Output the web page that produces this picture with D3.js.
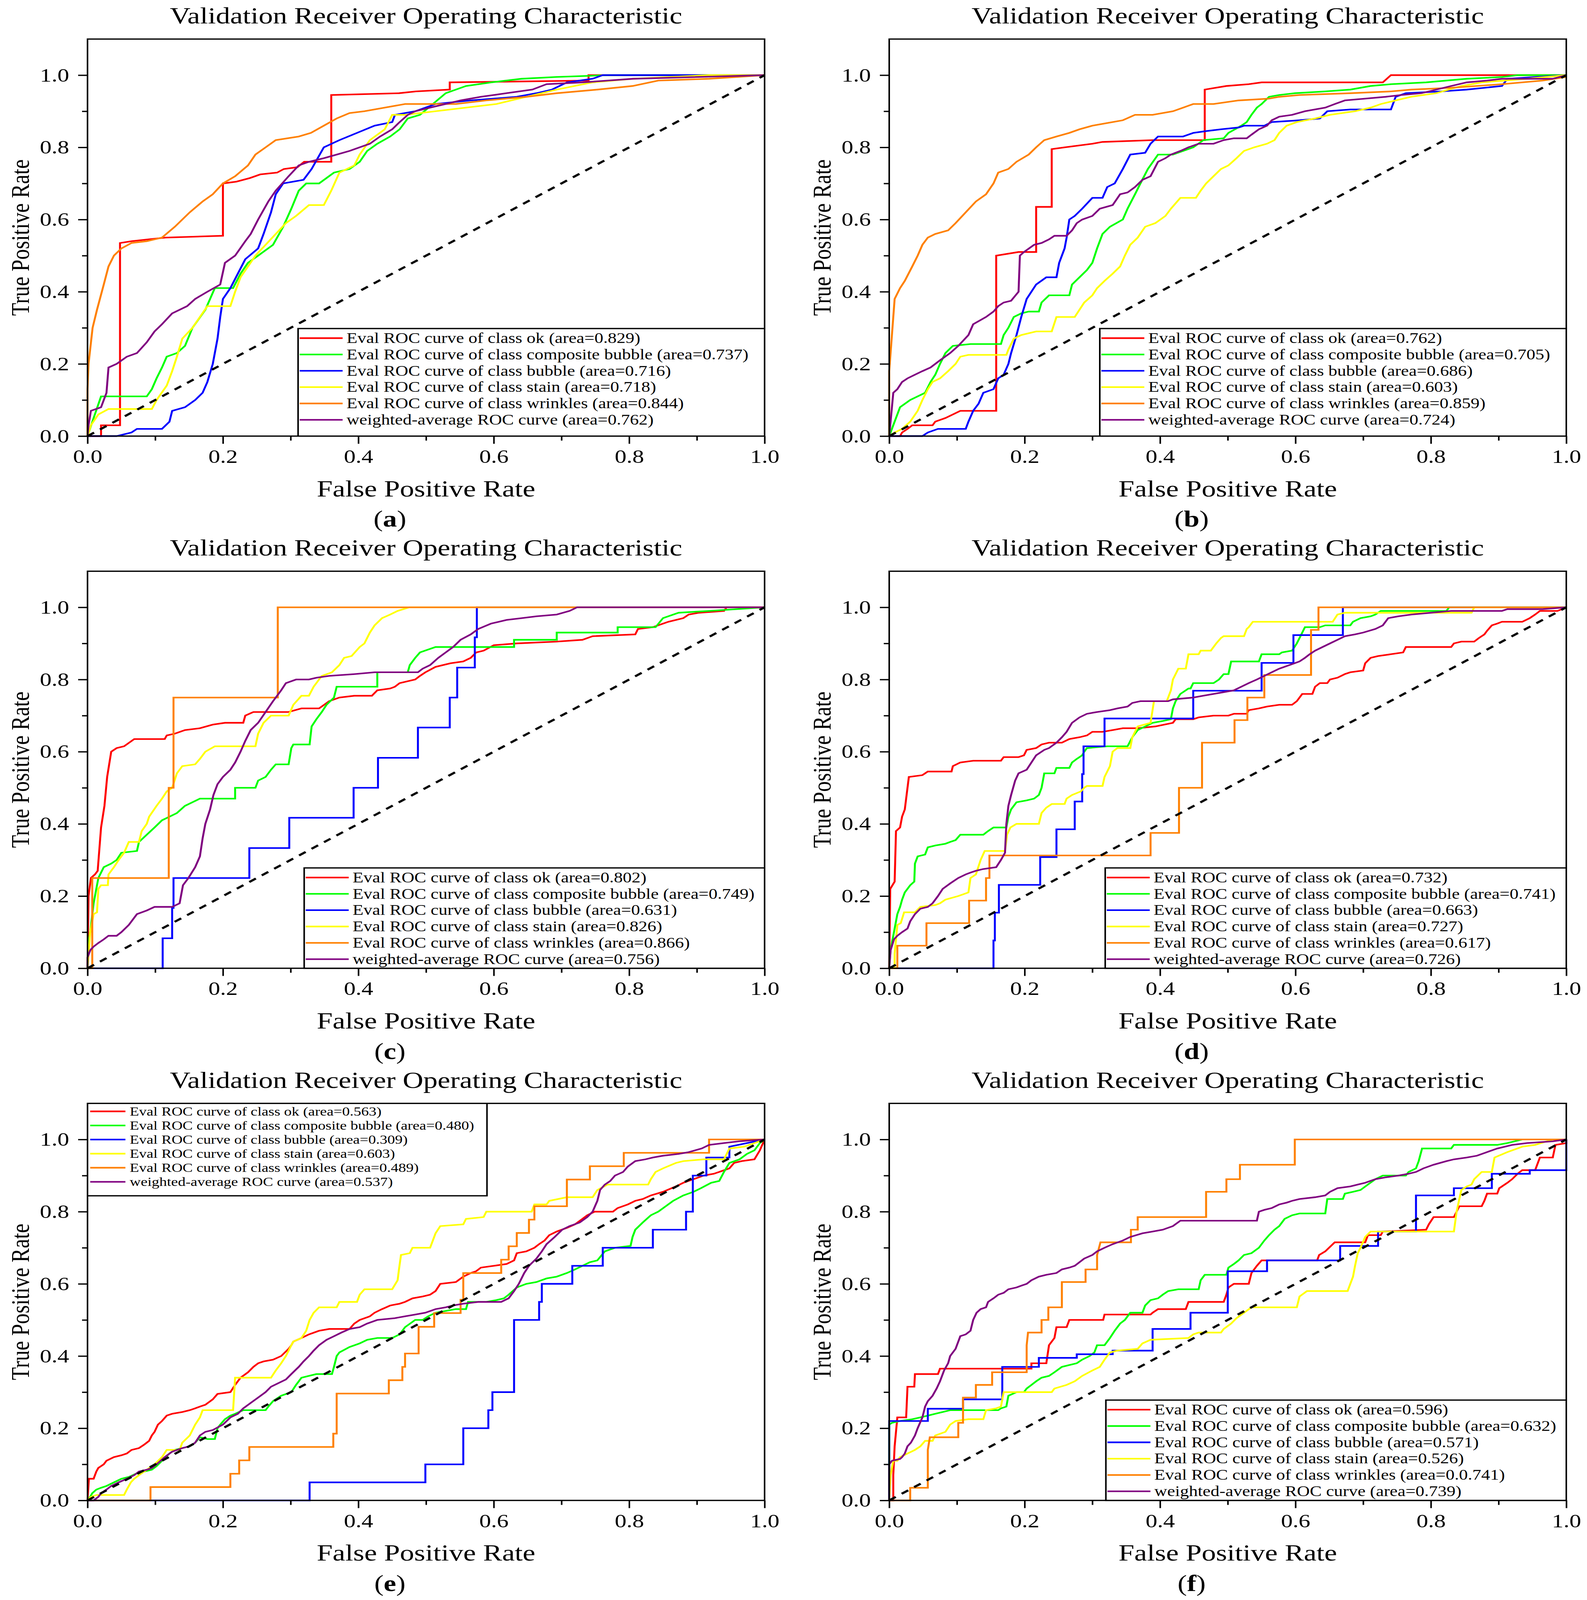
<!DOCTYPE html>
<html>
<head>
<meta charset="utf-8">
<title>Validation Receiver Operating Characteristic</title>
<script src="https://d3js.org/d3.v7.min.js"></script>
<style>
  html, body { margin: 0; padding: 0; background: #fff; overflow: hidden; }
  #chart { display: block; width: 100vw; height: 100vh; }
  svg text { font-family: "Liberation Serif", "Times New Roman", serif; fill: #000; }
</style>
</head>
<body>
<!-- drawn in the reference's 4062x4997 frame, stretched to whatever viewport we get -->
<svg id="chart" viewBox="0 0 4062 4997" preserveAspectRatio="none"></svg>
<script>
// ---- shared labels / ticks ----
const panelLetters = ["a", "b", "c", "d", "e", "f"];
const classNames = ["ok", "composite bubble", "bubble", "stain", "wrinkles"];
const curveColors = ["#ff0000", "#00ff00", "#0000ff", "#ffff00", "#ff8000", "#800080"];
const majorTicks = [0, 0.2, 0.4, 0.6, 0.8, 1.0];
const minorTicks = [0.1, 0.3, 0.5, 0.7, 0.9];

// legend areas per panel (ok, composite bubble, bubble, stain, wrinkles, weighted)
const areas_a = ["0.829", "0.737", "0.716", "0.718", "0.844", "0.762"];
const areas_b = ["0.762", "0.705", "0.686", "0.603", "0.859", "0.724"];
const areas_c = ["0.802", "0.749", "0.631", "0.826", "0.866", "0.756"];
const areas_d = ["0.732", "0.741", "0.663", "0.727", "0.617", "0.726"];
const areas_e = ["0.563", "0.480", "0.309", "0.603", "0.489", "0.537"];
const areas_f = ["0.596", "0.632", "0.571", "0.526", "0.0.741", "0.739"];

// ---- panel (a) ----
const a_ok = [[0,0],[0.02,0],[0.02,0.03],[0.048,0.03],[0.048,0.535],[0.065,0.54],[0.09,0.545],[0.115,0.55],[0.2,0.555],[0.2,0.70],[0.22,0.705],[0.24,0.715],[0.255,0.725],[0.28,0.73],[0.29,0.74],[0.31,0.745],[0.32,0.76],[0.36,0.76],[0.36,0.945],[0.46,0.95],[0.485,0.955],[0.535,0.96],[0.535,0.98],[0.74,0.985],[0.74,1.0],[1,1]];
const a_composite = [[0,0],[0.009,0.05],[0.02,0.11],[0.0875,0.11],[0.095,0.13],[0.102,0.16],[0.11,0.19],[0.117,0.22],[0.132,0.23],[0.144,0.25],[0.155,0.30],[0.174,0.35],[0.188,0.41],[0.215,0.41],[0.226,0.45],[0.237,0.48],[0.252,0.50],[0.274,0.53],[0.289,0.58],[0.301,0.63],[0.312,0.68],[0.323,0.70],[0.342,0.70],[0.364,0.73],[0.387,0.74],[0.402,0.76],[0.413,0.79],[0.428,0.81],[0.447,0.83],[0.461,0.85],[0.473,0.88],[0.491,0.89],[0.51,0.92],[0.529,0.95],[0.559,0.97],[0.596,0.98],[0.641,0.99],[0.693,0.995],[0.768,1],[1,1]];
const a_bubble = [[0,0],[0.043,0],[0.065,0.01],[0.073,0.02],[0.11,0.02],[0.121,0.04],[0.125,0.07],[0.144,0.08],[0.159,0.10],[0.17,0.12],[0.177,0.15],[0.185,0.20],[0.192,0.27],[0.196,0.33],[0.2,0.38],[0.211,0.41],[0.222,0.45],[0.233,0.49],[0.252,0.52],[0.26,0.56],[0.271,0.62],[0.278,0.67],[0.289,0.70],[0.319,0.71],[0.331,0.74],[0.349,0.80],[0.372,0.82],[0.398,0.84],[0.424,0.86],[0.45,0.87],[0.454,0.89],[0.484,0.90],[0.514,0.92],[0.566,0.93],[0.634,0.94],[0.663,0.95],[0.686,0.96],[0.708,0.98],[0.746,0.99],[0.761,1],[1,1]];
const a_stain = [[0,0],[0.005,0.03],[0.016,0.06],[0.031,0.075],[0.095,0.075],[0.102,0.10],[0.117,0.14],[0.125,0.18],[0.132,0.22],[0.14,0.27],[0.155,0.30],[0.166,0.33],[0.177,0.36],[0.211,0.36],[0.218,0.40],[0.226,0.44],[0.237,0.47],[0.248,0.50],[0.263,0.53],[0.278,0.56],[0.293,0.59],[0.308,0.61],[0.327,0.64],[0.349,0.64],[0.36,0.68],[0.372,0.73],[0.394,0.75],[0.402,0.78],[0.417,0.82],[0.439,0.85],[0.45,0.89],[0.469,0.89],[0.514,0.90],[0.559,0.91],[0.604,0.92],[0.648,0.94],[0.693,0.96],[0.746,0.98],[0.806,0.99],[0.918,1],[1,1]];
const a_wrinkles = [[0,0],[0,0.13],[0.0015,0.2],[0.0075,0.30],[0.014,0.35],[0.024,0.42],[0.031,0.47],[0.039,0.50],[0.05,0.52],[0.065,0.535],[0.0875,0.54],[0.11,0.55],[0.129,0.58],[0.14,0.60],[0.151,0.62],[0.17,0.65],[0.185,0.67],[0.2,0.70],[0.218,0.72],[0.237,0.75],[0.248,0.78],[0.263,0.80],[0.278,0.82],[0.312,0.83],[0.33,0.84],[0.349,0.86],[0.368,0.88],[0.387,0.895],[0.409,0.90],[0.439,0.91],[0.469,0.92],[0.544,0.92],[0.589,0.93],[0.648,0.94],[0.693,0.95],[0.753,0.96],[0.805,0.97],[0.843,0.985],[0.918,0.99],[1,1]];
const a_weighted = [[0,0],[0.0015,0.03],[0.005,0.07],[0.02,0.08],[0.028,0.12],[0.031,0.19],[0.043,0.20],[0.058,0.22],[0.073,0.23],[0.0875,0.26],[0.099,0.29],[0.11,0.31],[0.125,0.34],[0.147,0.36],[0.159,0.38],[0.177,0.40],[0.196,0.42],[0.203,0.48],[0.218,0.50],[0.233,0.54],[0.241,0.56],[0.252,0.60],[0.267,0.65],[0.278,0.68],[0.297,0.72],[0.312,0.75],[0.327,0.76],[0.349,0.77],[0.368,0.78],[0.387,0.79],[0.402,0.80],[0.417,0.81],[0.432,0.83],[0.45,0.85],[0.461,0.87],[0.473,0.89],[0.484,0.90],[0.506,0.91],[0.529,0.92],[0.551,0.93],[0.581,0.94],[0.619,0.95],[0.657,0.96],[0.678,0.975],[0.731,0.98],[0.806,0.99],[1,1]];

// ---- panel (b) ----
const b_ok = [[0,0],[0.016,0],[0.019,0.01],[0.027,0.02],[0.034,0.03],[0.064,0.03],[0.068,0.04],[0.083,0.05],[0.105,0.07],[0.158,0.07],[0.158,0.50],[0.191,0.51],[0.217,0.51],[0.217,0.635],[0.24,0.635],[0.24,0.795],[0.259,0.80],[0.30,0.81],[0.315,0.815],[0.389,0.82],[0.466,0.82],[0.466,0.96],[0.498,0.97],[0.531,0.975],[0.55,0.98],[0.729,0.98],[0.741,1],[1,1]];
const b_composite = [[0,0],[0.008,0.04],[0.016,0.08],[0.031,0.10],[0.042,0.11],[0.053,0.12],[0.061,0.15],[0.068,0.17],[0.075,0.20],[0.083,0.23],[0.094,0.25],[0.12,0.255],[0.165,0.255],[0.169,0.28],[0.176,0.30],[0.184,0.33],[0.195,0.34],[0.206,0.345],[0.221,0.345],[0.225,0.37],[0.236,0.39],[0.266,0.39],[0.27,0.42],[0.281,0.44],[0.292,0.46],[0.30,0.48],[0.307,0.52],[0.315,0.56],[0.326,0.58],[0.345,0.60],[0.352,0.63],[0.363,0.67],[0.371,0.70],[0.382,0.74],[0.397,0.78],[0.419,0.78],[0.434,0.79],[0.449,0.80],[0.464,0.82],[0.494,0.825],[0.501,0.84],[0.52,0.86],[0.528,0.87],[0.535,0.89],[0.543,0.91],[0.55,0.92],[0.561,0.94],[0.576,0.945],[0.599,0.95],[0.644,0.955],[0.681,0.96],[0.711,0.97],[0.741,0.975],[0.793,0.98],[0.853,0.99],[0.905,0.995],[0.928,1],[1,1]];
const b_bubble = [[0,0],[0.049,0],[0.057,0.01],[0.072,0.02],[0.113,0.02],[0.117,0.04],[0.124,0.07],[0.132,0.09],[0.139,0.12],[0.154,0.13],[0.161,0.16],[0.169,0.17],[0.176,0.20],[0.18,0.23],[0.188,0.28],[0.195,0.33],[0.203,0.38],[0.217,0.42],[0.232,0.44],[0.247,0.44],[0.251,0.48],[0.259,0.52],[0.262,0.55],[0.266,0.60],[0.274,0.61],[0.285,0.63],[0.30,0.66],[0.315,0.66],[0.322,0.69],[0.333,0.70],[0.345,0.74],[0.356,0.78],[0.378,0.785],[0.386,0.81],[0.397,0.83],[0.434,0.83],[0.449,0.84],[0.468,0.845],[0.49,0.85],[0.516,0.855],[0.524,0.86],[0.554,0.86],[0.565,0.87],[0.606,0.875],[0.636,0.88],[0.647,0.90],[0.681,0.905],[0.741,0.905],[0.748,0.94],[0.763,0.95],[0.815,0.955],[0.853,0.96],[0.905,0.97],[0.913,0.99],[1,1]];
const b_stain = [[0,0],[0.008,0.01],[0.019,0.02],[0.031,0.04],[0.042,0.07],[0.049,0.10],[0.057,0.13],[0.064,0.15],[0.075,0.16],[0.087,0.18],[0.098,0.20],[0.105,0.22],[0.117,0.225],[0.173,0.225],[0.176,0.24],[0.184,0.27],[0.195,0.28],[0.217,0.29],[0.24,0.29],[0.247,0.33],[0.274,0.33],[0.281,0.35],[0.288,0.37],[0.30,0.39],[0.307,0.41],[0.318,0.43],[0.33,0.45],[0.341,0.47],[0.348,0.50],[0.356,0.53],[0.367,0.55],[0.378,0.58],[0.393,0.59],[0.408,0.61],[0.416,0.63],[0.43,0.66],[0.453,0.66],[0.46,0.68],[0.468,0.70],[0.479,0.72],[0.49,0.74],[0.501,0.75],[0.513,0.77],[0.524,0.79],[0.539,0.80],[0.558,0.81],[0.569,0.82],[0.576,0.84],[0.587,0.86],[0.602,0.87],[0.629,0.88],[0.651,0.89],[0.688,0.90],[0.711,0.91],[0.726,0.92],[0.748,0.93],[0.771,0.94],[0.808,0.95],[0.845,0.97],[0.875,0.98],[0.942,0.99],[1,1]];
const b_wrinkles = [[0,0],[0,0.18],[0.008,0.38],[0.016,0.41],[0.023,0.43],[0.034,0.47],[0.042,0.50],[0.049,0.53],[0.057,0.55],[0.068,0.56],[0.087,0.57],[0.098,0.59],[0.113,0.62],[0.128,0.65],[0.143,0.67],[0.154,0.70],[0.161,0.73],[0.176,0.74],[0.188,0.76],[0.206,0.78],[0.217,0.80],[0.229,0.82],[0.247,0.83],[0.266,0.84],[0.281,0.85],[0.30,0.86],[0.33,0.87],[0.345,0.875],[0.363,0.89],[0.389,0.89],[0.419,0.90],[0.434,0.91],[0.449,0.92],[0.479,0.92],[0.516,0.93],[0.561,0.935],[0.576,0.94],[0.606,0.945],[0.681,0.95],[0.741,0.955],[0.771,0.96],[0.83,0.965],[0.905,0.975],[0.965,0.985],[1,0.995]];
const b_weighted = [[0,0],[0.006,0.12],[0.012,0.13],[0.019,0.15],[0.027,0.16],[0.038,0.17],[0.049,0.18],[0.061,0.19],[0.075,0.21],[0.09,0.23],[0.102,0.25],[0.117,0.28],[0.124,0.31],[0.143,0.33],[0.154,0.345],[0.161,0.36],[0.169,0.37],[0.18,0.375],[0.191,0.40],[0.193,0.50],[0.199,0.51],[0.214,0.53],[0.225,0.535],[0.236,0.545],[0.244,0.555],[0.262,0.555],[0.27,0.57],[0.277,0.59],[0.285,0.60],[0.30,0.61],[0.311,0.63],[0.33,0.64],[0.341,0.67],[0.352,0.675],[0.363,0.69],[0.374,0.71],[0.386,0.72],[0.397,0.76],[0.408,0.77],[0.416,0.78],[0.43,0.79],[0.442,0.80],[0.457,0.81],[0.479,0.81],[0.494,0.82],[0.509,0.825],[0.528,0.825],[0.535,0.835],[0.546,0.85],[0.558,0.86],[0.565,0.875],[0.576,0.885],[0.595,0.89],[0.614,0.90],[0.644,0.91],[0.658,0.92],[0.673,0.93],[0.703,0.935],[0.733,0.94],[0.756,0.945],[0.786,0.95],[0.808,0.96],[0.83,0.97],[0.853,0.98],[0.883,0.985],[0.905,0.99],[0.98,0.99],[1,1]];

// ---- panel (c) ----
const c_ok = [[0,0],[0.0015,0.20],[0.005,0.25],[0.011,0.26],[0.015,0.27],[0.02,0.39],[0.025,0.45],[0.029,0.53],[0.035,0.60],[0.043,0.61],[0.054,0.615],[0.069,0.635],[0.114,0.635],[0.117,0.645],[0.129,0.65],[0.144,0.66],[0.166,0.665],[0.185,0.675],[0.203,0.68],[0.23,0.68],[0.233,0.70],[0.245,0.71],[0.297,0.71],[0.316,0.72],[0.342,0.72],[0.357,0.74],[0.372,0.75],[0.394,0.755],[0.42,0.755],[0.428,0.77],[0.447,0.775],[0.454,0.78],[0.461,0.79],[0.484,0.80],[0.491,0.81],[0.499,0.82],[0.514,0.835],[0.536,0.845],[0.555,0.85],[0.566,0.86],[0.574,0.875],[0.585,0.88],[0.60,0.895],[0.634,0.90],[0.693,0.905],[0.731,0.91],[0.746,0.92],[0.809,0.925],[0.813,0.94],[0.835,0.945],[0.858,0.96],[0.88,0.97],[0.888,0.98],[0.903,0.985],[0.94,0.99],[0.944,1],[1,1]];
const c_composite = [[0,0],[0.0015,0.07],[0.004,0.10],[0.009,0.18],[0.016,0.25],[0.024,0.28],[0.035,0.29],[0.043,0.30],[0.05,0.32],[0.073,0.325],[0.076,0.35],[0.0875,0.37],[0.099,0.39],[0.11,0.41],[0.121,0.42],[0.132,0.43],[0.144,0.45],[0.155,0.46],[0.166,0.47],[0.218,0.47],[0.218,0.50],[0.248,0.50],[0.252,0.52],[0.263,0.53],[0.271,0.55],[0.278,0.565],[0.297,0.565],[0.301,0.61],[0.304,0.62],[0.328,0.62],[0.331,0.67],[0.338,0.69],[0.346,0.71],[0.353,0.73],[0.364,0.75],[0.368,0.78],[0.428,0.78],[0.428,0.82],[0.473,0.82],[0.476,0.84],[0.484,0.86],[0.491,0.875],[0.514,0.89],[0.63,0.89],[0.63,0.91],[0.693,0.91],[0.693,0.93],[0.783,0.93],[0.783,0.945],[0.839,0.945],[0.85,0.97],[0.873,0.985],[0.918,0.99],[1,1]];
const c_bubble = [[0,0],[0.111,0],[0.111,0.083],[0.125,0.083],[0.125,0.167],[0.127,0.167],[0.127,0.25],[0.239,0.25],[0.239,0.333],[0.298,0.333],[0.298,0.417],[0.393,0.417],[0.393,0.5],[0.429,0.5],[0.429,0.583],[0.488,0.583],[0.488,0.667],[0.535,0.667],[0.535,0.75],[0.546,0.75],[0.546,0.833],[0.572,0.833],[0.572,0.917],[0.575,0.917],[0.575,1],[1,1]];
const c_stain = [[0,0],[0.004,0.10],[0.009,0.15],[0.014,0.155],[0.016,0.22],[0.02,0.23],[0.03,0.23],[0.031,0.26],[0.039,0.28],[0.046,0.30],[0.054,0.32],[0.061,0.35],[0.076,0.35],[0.08,0.38],[0.0875,0.40],[0.091,0.42],[0.102,0.45],[0.11,0.47],[0.117,0.49],[0.125,0.50],[0.132,0.54],[0.14,0.56],[0.159,0.565],[0.166,0.58],[0.174,0.60],[0.188,0.615],[0.248,0.615],[0.252,0.65],[0.26,0.68],[0.271,0.70],[0.297,0.70],[0.304,0.73],[0.316,0.755],[0.327,0.755],[0.334,0.78],[0.346,0.81],[0.361,0.82],[0.372,0.84],[0.379,0.86],[0.39,0.865],[0.402,0.89],[0.409,0.90],[0.417,0.93],[0.424,0.95],[0.435,0.97],[0.447,0.98],[0.458,0.99],[0.475,1],[1,1]];
const c_wrinkles = [[0,0],[0.007,0],[0.007,0.25],[0.12,0.25],[0.12,0.5],[0.127,0.5],[0.127,0.75],[0.281,0.75],[0.281,1],[1,1]];
const c_weighted = [[0,0],[0,0.03],[0.004,0.05],[0.009,0.06],[0.016,0.07],[0.024,0.08],[0.031,0.09],[0.043,0.09],[0.05,0.10],[0.061,0.12],[0.073,0.15],[0.0875,0.16],[0.099,0.17],[0.125,0.17],[0.136,0.18],[0.141,0.23],[0.149,0.25],[0.159,0.28],[0.166,0.31],[0.17,0.36],[0.174,0.40],[0.181,0.44],[0.186,0.48],[0.192,0.51],[0.20,0.53],[0.211,0.55],[0.218,0.57],[0.226,0.60],[0.233,0.63],[0.241,0.66],[0.252,0.68],[0.263,0.71],[0.274,0.74],[0.286,0.77],[0.293,0.79],[0.308,0.80],[0.327,0.80],[0.338,0.805],[0.357,0.81],[0.394,0.815],[0.424,0.82],[0.488,0.82],[0.495,0.83],[0.506,0.84],[0.518,0.86],[0.529,0.875],[0.54,0.89],[0.551,0.91],[0.566,0.925],[0.577,0.94],[0.596,0.955],[0.619,0.965],[0.641,0.97],[0.663,0.975],[0.693,0.98],[0.712,0.99],[0.723,1],[1,1]];

// ---- panel (d) ----
const d_ok = [[0,0],[0.0015,0.22],[0.008,0.24],[0.01,0.38],[0.016,0.39],[0.019,0.42],[0.023,0.44],[0.029,0.53],[0.049,0.535],[0.057,0.545],[0.092,0.545],[0.094,0.56],[0.105,0.57],[0.124,0.575],[0.165,0.575],[0.169,0.585],[0.191,0.585],[0.199,0.59],[0.203,0.605],[0.217,0.61],[0.225,0.62],[0.236,0.625],[0.255,0.625],[0.266,0.635],[0.281,0.64],[0.292,0.645],[0.30,0.655],[0.315,0.655],[0.33,0.66],[0.345,0.665],[0.367,0.665],[0.393,0.67],[0.419,0.68],[0.423,0.69],[0.449,0.69],[0.457,0.695],[0.479,0.70],[0.501,0.70],[0.509,0.705],[0.528,0.705],[0.531,0.715],[0.546,0.72],[0.558,0.725],[0.576,0.73],[0.595,0.73],[0.602,0.74],[0.61,0.76],[0.625,0.76],[0.629,0.78],[0.636,0.79],[0.647,0.79],[0.651,0.80],[0.662,0.805],[0.673,0.815],[0.681,0.82],[0.70,0.825],[0.703,0.845],[0.711,0.86],[0.722,0.865],[0.741,0.87],[0.759,0.875],[0.763,0.89],[0.83,0.89],[0.834,0.90],[0.845,0.905],[0.864,0.905],[0.871,0.915],[0.879,0.925],[0.883,0.935],[0.89,0.95],[0.898,0.955],[0.905,0.96],[0.935,0.96],[0.946,0.97],[0.954,0.98],[0.961,0.99],[0.987,0.99],[1,1]];
const d_composite = [[0,0],[0.002,0.05],[0.007,0.10],[0.012,0.15],[0.016,0.17],[0.019,0.19],[0.023,0.21],[0.031,0.23],[0.037,0.24],[0.038,0.29],[0.042,0.31],[0.053,0.315],[0.057,0.335],[0.068,0.34],[0.083,0.345],[0.09,0.35],[0.098,0.355],[0.105,0.37],[0.139,0.37],[0.146,0.38],[0.154,0.39],[0.173,0.39],[0.176,0.42],[0.18,0.44],[0.188,0.46],[0.203,0.465],[0.214,0.47],[0.221,0.48],[0.225,0.50],[0.229,0.54],[0.244,0.54],[0.247,0.555],[0.266,0.555],[0.27,0.57],[0.277,0.58],[0.285,0.59],[0.288,0.60],[0.292,0.61],[0.322,0.615],[0.352,0.615],[0.359,0.64],[0.367,0.66],[0.378,0.67],[0.389,0.68],[0.404,0.685],[0.416,0.69],[0.419,0.72],[0.423,0.74],[0.43,0.76],[0.442,0.775],[0.445,0.775],[0.449,0.79],[0.479,0.79],[0.487,0.80],[0.494,0.815],[0.501,0.815],[0.505,0.85],[0.546,0.85],[0.55,0.87],[0.576,0.87],[0.58,0.875],[0.595,0.88],[0.602,0.90],[0.61,0.93],[0.614,0.945],[0.636,0.945],[0.644,0.95],[0.681,0.95],[0.685,0.96],[0.696,0.97],[0.711,0.975],[0.718,0.98],[0.726,0.99],[0.823,0.99],[0.827,1],[1,1]];
const d_bubble = [[0,0],[0.154,0],[0.154,0.077],[0.156,0.077],[0.156,0.154],[0.162,0.154],[0.162,0.231],[0.223,0.231],[0.223,0.308],[0.247,0.308],[0.247,0.385],[0.274,0.385],[0.274,0.462],[0.285,0.462],[0.285,0.538],[0.287,0.538],[0.287,0.615],[0.318,0.615],[0.318,0.692],[0.449,0.692],[0.449,0.769],[0.55,0.769],[0.55,0.846],[0.597,0.846],[0.597,0.923],[0.67,0.923],[0.67,1],[1,1]];
const d_stain = [[0,0],[0.008,0],[0.008,0.04],[0.012,0.12],[0.017,0.125],[0.022,0.155],[0.038,0.155],[0.046,0.17],[0.068,0.175],[0.075,0.18],[0.083,0.19],[0.102,0.20],[0.117,0.21],[0.12,0.25],[0.128,0.26],[0.135,0.30],[0.141,0.325],[0.171,0.325],[0.174,0.37],[0.179,0.39],[0.188,0.40],[0.221,0.40],[0.225,0.43],[0.232,0.445],[0.24,0.455],[0.259,0.455],[0.262,0.47],[0.27,0.48],[0.283,0.49],[0.288,0.50],[0.292,0.505],[0.315,0.505],[0.318,0.53],[0.326,0.56],[0.33,0.60],[0.337,0.61],[0.356,0.61],[0.359,0.64],[0.367,0.67],[0.386,0.68],[0.391,0.74],[0.41,0.74],[0.416,0.77],[0.419,0.80],[0.427,0.83],[0.438,0.83],[0.442,0.87],[0.457,0.87],[0.46,0.88],[0.475,0.88],[0.483,0.90],[0.49,0.915],[0.494,0.92],[0.524,0.92],[0.528,0.94],[0.531,0.945],[0.537,0.96],[0.655,0.96],[0.662,0.98],[0.673,0.985],[0.86,0.985],[0.864,1],[1,1]];
const d_wrinkles = [[0,0],[0.012,0],[0.012,0.0625],[0.055,0.0625],[0.055,0.125],[0.118,0.125],[0.118,0.1875],[0.143,0.1875],[0.143,0.25],[0.148,0.25],[0.148,0.3125],[0.386,0.3125],[0.386,0.375],[0.428,0.375],[0.428,0.5],[0.462,0.5],[0.462,0.625],[0.51,0.625],[0.51,0.6875],[0.529,0.6875],[0.529,0.75],[0.554,0.75],[0.554,0.8125],[0.623,0.8125],[0.623,0.9375],[0.634,0.9375],[0.634,1],[1,1]];
const d_weighted = [[0,0],[0.002,0.05],[0.007,0.08],[0.012,0.09],[0.019,0.10],[0.027,0.11],[0.031,0.13],[0.038,0.15],[0.046,0.165],[0.057,0.17],[0.064,0.18],[0.072,0.20],[0.079,0.22],[0.09,0.235],[0.102,0.25],[0.113,0.26],[0.12,0.265],[0.128,0.27],[0.139,0.275],[0.158,0.28],[0.165,0.30],[0.171,0.32],[0.173,0.40],[0.176,0.45],[0.18,0.48],[0.186,0.52],[0.191,0.54],[0.203,0.55],[0.21,0.57],[0.217,0.59],[0.229,0.605],[0.236,0.61],[0.247,0.625],[0.255,0.64],[0.262,0.655],[0.27,0.68],[0.281,0.695],[0.292,0.705],[0.307,0.71],[0.326,0.715],[0.337,0.72],[0.352,0.725],[0.359,0.735],[0.371,0.74],[0.412,0.74],[0.419,0.745],[0.449,0.75],[0.464,0.755],[0.479,0.76],[0.494,0.765],[0.509,0.77],[0.52,0.78],[0.531,0.79],[0.543,0.80],[0.554,0.81],[0.565,0.82],[0.576,0.83],[0.591,0.84],[0.606,0.85],[0.614,0.86],[0.621,0.87],[0.629,0.88],[0.64,0.89],[0.651,0.90],[0.662,0.91],[0.673,0.92],[0.688,0.925],[0.70,0.93],[0.718,0.94],[0.729,0.95],[0.737,0.97],[0.752,0.975],[0.771,0.98],[0.80,0.985],[0.83,0.99],[0.905,0.99],[0.913,0.995],[0.965,0.995],[1,1]];

// ---- panel (e) ----
const e_ok = [[0,0],[0.002,0.06],[0.009,0.06],[0.013,0.08],[0.016,0.09],[0.024,0.10],[0.028,0.11],[0.039,0.12],[0.05,0.125],[0.058,0.13],[0.065,0.14],[0.076,0.145],[0.084,0.155],[0.091,0.165],[0.095,0.18],[0.099,0.19],[0.104,0.21],[0.11,0.22],[0.117,0.235],[0.125,0.24],[0.14,0.245],[0.151,0.25],[0.159,0.255],[0.166,0.26],[0.174,0.265],[0.185,0.28],[0.192,0.295],[0.211,0.30],[0.218,0.32],[0.226,0.34],[0.237,0.355],[0.245,0.37],[0.252,0.38],[0.26,0.385],[0.274,0.39],[0.286,0.40],[0.297,0.42],[0.301,0.43],[0.304,0.44],[0.316,0.45],[0.327,0.46],[0.342,0.47],[0.357,0.475],[0.387,0.475],[0.394,0.49],[0.402,0.50],[0.417,0.51],[0.424,0.52],[0.435,0.53],[0.447,0.54],[0.461,0.545],[0.469,0.55],[0.48,0.56],[0.495,0.565],[0.506,0.57],[0.514,0.58],[0.521,0.60],[0.544,0.605],[0.555,0.62],[0.566,0.63],[0.574,0.635],[0.581,0.645],[0.60,0.65],[0.619,0.655],[0.63,0.665],[0.634,0.685],[0.648,0.69],[0.66,0.70],[0.667,0.71],[0.675,0.72],[0.682,0.735],[0.693,0.745],[0.708,0.755],[0.72,0.765],[0.731,0.78],[0.738,0.79],[0.749,0.80],[0.776,0.80],[0.783,0.81],[0.798,0.82],[0.809,0.83],[0.82,0.835],[0.832,0.845],[0.85,0.855],[0.869,0.87],[0.88,0.88],[0.895,0.89],[0.91,0.90],[0.925,0.905],[0.933,0.91],[0.948,0.92],[0.955,0.935],[0.966,0.94],[0.985,0.945],[0.993,0.97],[1,1]];
const e_composite = [[0,0],[0.004,0.01],[0.007,0.02],[0.013,0.03],[0.02,0.035],[0.028,0.04],[0.039,0.05],[0.05,0.06],[0.061,0.065],[0.073,0.075],[0.084,0.08],[0.095,0.085],[0.102,0.095],[0.11,0.11],[0.121,0.13],[0.129,0.14],[0.14,0.145],[0.151,0.15],[0.159,0.16],[0.166,0.175],[0.177,0.17],[0.188,0.17],[0.192,0.20],[0.196,0.21],[0.203,0.225],[0.211,0.235],[0.218,0.24],[0.23,0.25],[0.263,0.25],[0.267,0.26],[0.274,0.275],[0.286,0.29],[0.301,0.30],[0.308,0.32],[0.316,0.34],[0.327,0.345],[0.338,0.35],[0.361,0.35],[0.364,0.37],[0.368,0.40],[0.372,0.41],[0.387,0.425],[0.402,0.435],[0.413,0.445],[0.428,0.45],[0.45,0.45],[0.461,0.46],[0.469,0.48],[0.484,0.50],[0.495,0.50],[0.503,0.51],[0.514,0.52],[0.529,0.525],[0.544,0.53],[0.559,0.53],[0.562,0.55],[0.589,0.55],[0.604,0.555],[0.615,0.56],[0.622,0.57],[0.628,0.58],[0.634,0.59],[0.648,0.60],[0.663,0.605],[0.678,0.615],[0.693,0.62],[0.708,0.63],[0.72,0.64],[0.731,0.65],[0.742,0.66],[0.753,0.665],[0.764,0.69],[0.779,0.70],[0.802,0.705],[0.805,0.73],[0.809,0.75],[0.82,0.77],[0.832,0.79],[0.843,0.80],[0.854,0.815],[0.865,0.83],[0.88,0.845],[0.895,0.855],[0.906,0.865],[0.921,0.88],[0.933,0.885],[0.94,0.91],[0.948,0.935],[0.963,0.945],[0.974,0.96],[0.985,0.97],[0.993,0.99],[1,1]];
const e_bubble = [[0,0],[0.328,0],[0.328,0.05],[0.499,0.05],[0.499,0.10],[0.555,0.10],[0.555,0.20],[0.592,0.20],[0.592,0.25],[0.598,0.25],[0.598,0.30],[0.63,0.30],[0.63,0.50],[0.667,0.50],[0.667,0.55],[0.671,0.55],[0.671,0.60],[0.716,0.60],[0.716,0.65],[0.761,0.65],[0.761,0.70],[0.835,0.70],[0.835,0.75],[0.884,0.75],[0.884,0.80],[0.894,0.80],[0.894,0.90],[0.914,0.90],[0.914,0.95],[0.948,0.95],[0.948,0.98],[1,1]];
const e_stain = [[0,0],[0.005,0.01],[0.013,0.015],[0.054,0.015],[0.058,0.03],[0.064,0.05],[0.069,0.06],[0.076,0.07],[0.0875,0.085],[0.099,0.10],[0.11,0.12],[0.117,0.14],[0.136,0.14],[0.14,0.16],[0.151,0.18],[0.159,0.21],[0.166,0.23],[0.17,0.25],[0.215,0.25],[0.218,0.34],[0.271,0.34],[0.278,0.36],[0.286,0.38],[0.293,0.40],[0.301,0.43],[0.304,0.44],[0.316,0.45],[0.323,0.47],[0.328,0.50],[0.334,0.52],[0.342,0.535],[0.368,0.535],[0.372,0.55],[0.398,0.55],[0.402,0.57],[0.409,0.585],[0.45,0.585],[0.458,0.61],[0.46,0.64],[0.463,0.68],[0.476,0.685],[0.48,0.70],[0.506,0.70],[0.51,0.72],[0.514,0.74],[0.521,0.76],[0.555,0.765],[0.559,0.78],[0.585,0.785],[0.589,0.80],[0.656,0.80],[0.66,0.82],[0.678,0.82],[0.682,0.83],[0.708,0.84],[0.746,0.84],[0.753,0.86],[0.768,0.875],[0.828,0.875],[0.832,0.89],[0.839,0.91],[0.85,0.92],[0.869,0.935],[0.88,0.94],[0.91,0.945],[0.94,0.945],[0.944,0.96],[0.948,0.975],[0.97,0.98],[1,1]];
const e_wrinkles = [[0,0],[0.093,0],[0.093,0.037],[0.211,0.037],[0.211,0.074],[0.224,0.074],[0.224,0.111],[0.239,0.111],[0.239,0.148],[0.363,0.148],[0.363,0.185],[0.368,0.185],[0.368,0.296],[0.445,0.296],[0.445,0.333],[0.465,0.333],[0.465,0.37],[0.469,0.37],[0.469,0.407],[0.489,0.407],[0.489,0.481],[0.512,0.481],[0.512,0.519],[0.551,0.519],[0.551,0.556],[0.555,0.556],[0.555,0.63],[0.611,0.63],[0.611,0.667],[0.622,0.667],[0.622,0.704],[0.634,0.704],[0.634,0.741],[0.652,0.741],[0.652,0.778],[0.66,0.778],[0.66,0.815],[0.708,0.815],[0.708,0.889],[0.742,0.889],[0.742,0.926],[0.792,0.926],[0.792,0.963],[0.918,0.963],[0.918,1],[1,1]];
const e_weighted = [[0,0],[0.009,0],[0.016,0.01],[0.02,0.02],[0.028,0.03],[0.035,0.04],[0.046,0.05],[0.058,0.06],[0.069,0.07],[0.076,0.08],[0.0875,0.085],[0.095,0.09],[0.102,0.10],[0.114,0.12],[0.125,0.135],[0.14,0.145],[0.151,0.15],[0.159,0.16],[0.166,0.18],[0.174,0.19],[0.185,0.195],[0.20,0.21],[0.211,0.23],[0.222,0.24],[0.23,0.255],[0.241,0.27],[0.252,0.285],[0.263,0.30],[0.271,0.315],[0.282,0.325],[0.293,0.335],[0.301,0.35],[0.312,0.37],[0.319,0.385],[0.327,0.40],[0.334,0.415],[0.342,0.43],[0.353,0.445],[0.364,0.455],[0.375,0.465],[0.387,0.475],[0.402,0.48],[0.413,0.49],[0.428,0.50],[0.454,0.505],[0.469,0.51],[0.484,0.515],[0.499,0.52],[0.514,0.53],[0.529,0.535],[0.54,0.54],[0.555,0.545],[0.577,0.55],[0.611,0.55],[0.622,0.56],[0.63,0.58],[0.637,0.60],[0.645,0.63],[0.652,0.65],[0.663,0.67],[0.671,0.69],[0.678,0.71],[0.69,0.73],[0.701,0.75],[0.712,0.76],[0.727,0.77],[0.738,0.785],[0.746,0.80],[0.753,0.83],[0.757,0.86],[0.764,0.875],[0.772,0.885],[0.779,0.90],[0.791,0.91],[0.798,0.925],[0.809,0.94],[0.824,0.945],[0.835,0.95],[0.85,0.955],[0.873,0.96],[0.888,0.965],[0.907,0.975],[0.918,0.985],[0.94,0.99],[0.962,0.995],[1,1]];

// ---- panel (f) ----
const f_ok = [[0,0],[0.006,0],[0.006,0.07],[0.008,0.15],[0.012,0.23],[0.025,0.23],[0.027,0.315],[0.037,0.315],[0.038,0.35],[0.072,0.35],[0.075,0.365],[0.21,0.365],[0.21,0.38],[0.232,0.38],[0.236,0.43],[0.244,0.45],[0.247,0.48],[0.262,0.48],[0.266,0.50],[0.316,0.50],[0.318,0.515],[0.386,0.515],[0.389,0.52],[0.397,0.53],[0.438,0.53],[0.442,0.55],[0.494,0.55],[0.498,0.57],[0.501,0.59],[0.509,0.60],[0.531,0.60],[0.535,0.63],[0.543,0.65],[0.55,0.665],[0.632,0.665],[0.635,0.68],[0.644,0.69],[0.658,0.715],[0.703,0.715],[0.707,0.735],[0.726,0.735],[0.729,0.745],[0.793,0.75],[0.797,0.765],[0.804,0.785],[0.834,0.785],[0.842,0.815],[0.875,0.815],[0.879,0.83],[0.883,0.85],[0.898,0.85],[0.901,0.865],[0.913,0.88],[0.92,0.89],[0.928,0.905],[0.935,0.915],[0.954,0.915],[0.961,0.95],[0.98,0.95],[0.984,0.985],[1,0.99],[1,1]];
const f_composite = [[0,0],[0,0.21],[0.004,0.215],[0.016,0.22],[0.034,0.225],[0.046,0.23],[0.057,0.235],[0.068,0.24],[0.079,0.245],[0.09,0.25],[0.161,0.25],[0.165,0.255],[0.173,0.26],[0.176,0.29],[0.188,0.30],[0.199,0.30],[0.203,0.31],[0.21,0.32],[0.217,0.33],[0.225,0.34],[0.236,0.345],[0.244,0.355],[0.255,0.37],[0.266,0.375],[0.277,0.38],[0.285,0.39],[0.296,0.40],[0.303,0.41],[0.307,0.43],[0.318,0.43],[0.326,0.45],[0.333,0.47],[0.341,0.49],[0.348,0.50],[0.356,0.52],[0.374,0.52],[0.378,0.54],[0.386,0.555],[0.397,0.56],[0.404,0.57],[0.412,0.58],[0.427,0.585],[0.457,0.585],[0.46,0.61],[0.466,0.625],[0.498,0.625],[0.501,0.645],[0.509,0.655],[0.516,0.665],[0.524,0.68],[0.535,0.685],[0.546,0.70],[0.554,0.72],[0.561,0.735],[0.569,0.75],[0.576,0.76],[0.584,0.78],[0.595,0.79],[0.606,0.795],[0.644,0.795],[0.647,0.835],[0.67,0.835],[0.673,0.85],[0.685,0.855],[0.696,0.86],[0.707,0.875],[0.718,0.89],[0.729,0.90],[0.763,0.90],[0.767,0.91],[0.778,0.92],[0.782,0.94],[0.787,0.975],[0.83,0.975],[0.834,0.985],[0.898,0.985],[0.913,0.99],[0.935,1],[1,1]];
const f_bubble = [[0,0],[0,0.22],[0.057,0.22],[0.057,0.254],[0.109,0.254],[0.109,0.28],[0.167,0.28],[0.167,0.37],[0.221,0.37],[0.221,0.395],[0.277,0.395],[0.277,0.405],[0.33,0.405],[0.33,0.415],[0.389,0.415],[0.389,0.475],[0.445,0.475],[0.445,0.52],[0.5,0.52],[0.5,0.635],[0.558,0.635],[0.558,0.665],[0.666,0.665],[0.666,0.705],[0.722,0.705],[0.722,0.745],[0.778,0.745],[0.778,0.845],[0.834,0.845],[0.834,0.865],[0.89,0.865],[0.89,0.905],[0.946,0.905],[0.946,0.915],[1,0.915],[1,1]];
const f_stain = [[0,0],[0.002,0.07],[0.006,0.11],[0.012,0.11],[0.016,0.12],[0.027,0.13],[0.038,0.14],[0.046,0.15],[0.053,0.165],[0.064,0.165],[0.068,0.18],[0.083,0.19],[0.09,0.21],[0.098,0.22],[0.117,0.225],[0.139,0.225],[0.143,0.25],[0.158,0.255],[0.165,0.26],[0.169,0.30],[0.24,0.30],[0.244,0.31],[0.262,0.32],[0.274,0.33],[0.285,0.345],[0.30,0.36],[0.311,0.37],[0.318,0.39],[0.326,0.41],[0.337,0.415],[0.367,0.42],[0.374,0.435],[0.386,0.445],[0.442,0.45],[0.449,0.46],[0.457,0.465],[0.49,0.465],[0.494,0.475],[0.505,0.49],[0.513,0.505],[0.535,0.535],[0.602,0.535],[0.606,0.565],[0.617,0.58],[0.677,0.58],[0.681,0.60],[0.685,0.62],[0.688,0.65],[0.692,0.685],[0.696,0.70],[0.703,0.73],[0.711,0.745],[0.834,0.745],[0.838,0.80],[0.842,0.835],[0.845,0.86],[0.853,0.87],[0.86,0.875],[0.864,0.89],[0.875,0.91],[0.89,0.91],[0.894,0.95],[0.913,0.965],[0.935,0.98],[0.954,0.985],[0.98,1],[1,1]];
const f_wrinkles = [[0,0],[0.031,0],[0.031,0.035],[0.057,0.035],[0.057,0.14],[0.06,0.175],[0.102,0.175],[0.102,0.215],[0.109,0.215],[0.109,0.285],[0.128,0.285],[0.128,0.32],[0.152,0.32],[0.152,0.355],[0.203,0.355],[0.203,0.43],[0.205,0.465],[0.225,0.465],[0.225,0.50],[0.235,0.50],[0.235,0.535],[0.255,0.535],[0.255,0.605],[0.29,0.605],[0.29,0.64],[0.307,0.64],[0.307,0.68],[0.312,0.715],[0.357,0.715],[0.357,0.75],[0.367,0.75],[0.367,0.785],[0.468,0.785],[0.468,0.855],[0.498,0.855],[0.498,0.89],[0.518,0.89],[0.518,0.93],[0.599,0.93],[0.599,1],[1,1]];
const f_weighted = [[0,0],[0,0.10],[0.004,0.11],[0.016,0.115],[0.019,0.12],[0.023,0.13],[0.027,0.15],[0.032,0.16],[0.038,0.18],[0.042,0.20],[0.049,0.23],[0.053,0.26],[0.057,0.275],[0.064,0.29],[0.07,0.31],[0.075,0.33],[0.081,0.36],[0.087,0.38],[0.09,0.40],[0.098,0.42],[0.102,0.44],[0.105,0.455],[0.113,0.46],[0.12,0.47],[0.124,0.50],[0.129,0.52],[0.135,0.53],[0.143,0.535],[0.146,0.55],[0.154,0.56],[0.161,0.57],[0.169,0.575],[0.176,0.585],[0.188,0.59],[0.195,0.595],[0.203,0.60],[0.21,0.61],[0.221,0.62],[0.232,0.625],[0.247,0.63],[0.255,0.64],[0.266,0.645],[0.274,0.65],[0.281,0.66],[0.288,0.67],[0.30,0.68],[0.307,0.69],[0.318,0.70],[0.33,0.71],[0.345,0.72],[0.356,0.73],[0.374,0.74],[0.389,0.745],[0.404,0.75],[0.419,0.76],[0.43,0.775],[0.543,0.775],[0.546,0.80],[0.554,0.805],[0.565,0.81],[0.576,0.82],[0.587,0.825],[0.595,0.83],[0.606,0.835],[0.629,0.84],[0.644,0.845],[0.651,0.855],[0.662,0.865],[0.681,0.87],[0.692,0.875],[0.703,0.88],[0.718,0.89],[0.733,0.895],[0.752,0.90],[0.767,0.905],[0.778,0.91],[0.789,0.92],[0.804,0.93],[0.823,0.94],[0.834,0.945],[0.853,0.95],[0.868,0.955],[0.883,0.965],[0.898,0.975],[0.92,0.985],[0.942,0.99],[0.98,0.995],[1,1]];

// legend box corners in data units: [left fpr, right fpr, top tpr, bottom tpr]
const legendBoxes = [
  [0.311, 1, 0.298, 0], [0.311, 1, 0.298, 0],
  [0.32, 1, 0.278, 0], [0.319, 1, 0.278, 0],
  [0, 0.59, 1.1, 0.844], [0.32, 1, 0.278, 0]
];

const panels = [
  { curves: [a_ok, a_composite, a_bubble, a_stain, a_wrinkles, a_weighted], areas: areas_a },
  { curves: [b_ok, b_composite, b_bubble, b_stain, b_wrinkles, b_weighted], areas: areas_b },
  { curves: [c_ok, c_composite, c_bubble, c_stain, c_wrinkles, c_weighted], areas: areas_c },
  { curves: [d_ok, d_composite, d_bubble, d_stain, d_wrinkles, d_weighted], areas: areas_d },
  { curves: [e_ok, e_composite, e_bubble, e_stain, e_wrinkles, e_weighted], areas: areas_e },
  { curves: [f_ok, f_composite, f_bubble, f_stain, f_wrinkles, f_weighted], areas: areas_f }
];

// ---- layout (reference pixels) ----
const colLeft = [224, 2276];
const rowTop = [122, 1784, 3446];
const W = 1733, H = 1240;
const FONT = '"Liberation Serif", "Times New Roman", serif';

const svg = d3.select("#chart");
svg.append("rect").attr("width", 4062).attr("height", 4997).attr("fill", "#fff");

function legendText(k, areas) {
  if (k === 5) return "weighted-average ROC curve (area=" + areas[k] + ")";
  return "Eval ROC curve of class " + classNames[k] + " (area=" + areas[k] + ")";
}

panels.forEach(function(p, i) {
  const col = i % 2, row = Math.floor(i / 2);
  const left = colLeft[col], top = rowTop[row];
  const x = d3.scaleLinear().domain([0, 1]).range([left, left + W]);
  const y = d3.scaleLinear().domain([0, 1.1]).range([top + H, top]);
  const g = svg.append("g");
  const line = d3.line().x(d => x(d[0])).y(d => y(d[1]));

  // curves
  p.curves.forEach(function(c, k) {
    g.append("path").datum(c)
      .attr("d", line)
      .attr("fill", "none")
      .attr("stroke", curveColors[k])
      .attr("stroke-width", 5)
      .attr("stroke-linejoin", "miter");
  });

  // chance line
  g.append("path").datum([[0, 0], [1, 1]])
    .attr("d", line)
    .attr("fill", "none")
    .attr("stroke", "#000")
    .attr("stroke-width", 6.5)
    .attr("stroke-dasharray", "20,18");

  // axes: major + minor ticks
  const xAx = g.append("g").attr("transform", "translate(0," + (top + H) + ")")
    .call(d3.axisBottom(x).tickValues(majorTicks).tickFormat(d3.format(".1f"))
      .tickSize(24).tickSizeOuter(0).tickPadding(17));
  g.append("g").attr("transform", "translate(0," + (top + H) + ")")
    .call(d3.axisBottom(x).tickValues(minorTicks).tickFormat("").tickSize(14).tickSizeOuter(0));
  const yAx = g.append("g").attr("transform", "translate(" + left + ",0)")
    .call(d3.axisLeft(y).tickValues(majorTicks).tickFormat(d3.format(".1f"))
      .tickSize(24).tickSizeOuter(0).tickPadding(23));
  g.append("g").attr("transform", "translate(" + left + ",0)")
    .call(d3.axisLeft(y).tickValues(minorTicks).tickFormat("").tickSize(14).tickSizeOuter(0));
  g.selectAll(".domain").remove();
  g.selectAll(".tick line").attr("stroke", "#000").attr("stroke-width", 4);
  [xAx, yAx].forEach(a => a.selectAll("text")
    .attr("font-family", FONT).attr("font-size", 60).attr("fill", "#000"));

  // frame
  g.append("rect")
    .attr("x", left).attr("y", top).attr("width", W).attr("height", H)
    .attr("fill", "none").attr("stroke", "#000").attr("stroke-width", 4);

  // legend
  const lb = legendBoxes[i];
  const small = (i === 4);
  const bx = x(lb[0]), by = y(lb[2]);
  g.append("rect")
    .attr("x", bx).attr("y", by)
    .attr("width", x(lb[1]) - bx).attr("height", y(lb[3]) - by)
    .attr("fill", "#fff").attr("stroke", "#000").attr("stroke-width", 4);
  const rowGap = small ? 44 : 51, first = small ? 25 : 30;
  const l0 = small ? 7 : 4, l1 = small ? 97 : 114, tx = small ? 108 : 124;
  d3.range(6).forEach(function(k) {
    const ry = by + first + k * rowGap;
    g.append("line")
      .attr("x1", bx + l0).attr("x2", bx + l1).attr("y1", ry).attr("y2", ry)
      .attr("stroke", curveColors[k]).attr("stroke-width", 5);
    g.append("text")
      .attr("x", bx + tx).attr("y", ry)
      .attr("dy", "0.33em")
      .attr("font-size", small ? 39 : 45.5)
      .text(legendText(k, p.areas));
  });

  // titles and axis labels
  g.append("text")
    .attr("x", left + W / 2).attr("y", top - 73).attr("dy", "0.33em")
    .attr("text-anchor", "middle").attr("font-size", 73)
    .text("Validation Receiver Operating Characteristic");
  g.append("text")
    .attr("x", left + W / 2).attr("y", top + H + 164).attr("dy", "0.33em")
    .attr("text-anchor", "middle").attr("font-size", 73)
    .text("False Positive Rate");
  g.append("text")
    .attr("transform", "translate(" + (left - 172) + "," + (top + H / 2) + ") rotate(-90)")
    .attr("dy", "0.33em")
    .attr("text-anchor", "middle").attr("font-size", 66)
    .text("True Positive Rate");

  // sub-figure label
  const lab = g.append("text")
    .attr("x", left + 774).attr("y", top + H + 259).attr("dy", "0.33em")
    .attr("text-anchor", "middle").attr("font-size", 72);
  lab.append("tspan").text("(");
  lab.append("tspan").attr("font-weight", "bold").text(panelLetters[i]);
  lab.append("tspan").text(")");
});
</script>
</body>
</html>
